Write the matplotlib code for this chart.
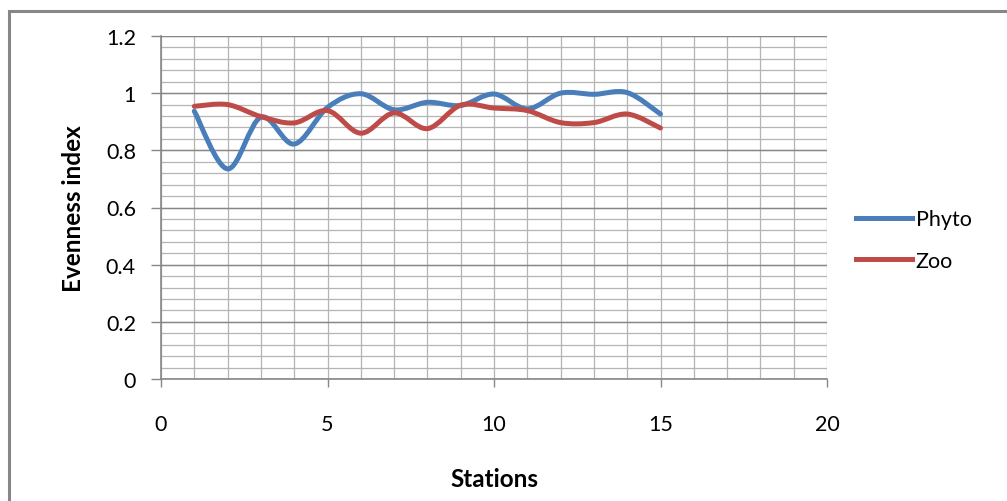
import numpy as np
import matplotlib
matplotlib.use("Agg")
import matplotlib.pyplot as plt
from matplotlib.path import Path
from matplotlib.patches import PathPatch, Rectangle
from matplotlib.lines import Line2D

plt.rcParams['font.family'] = ['Lato', 'DejaVu Sans']

stations = [1, 2, 3, 4, 5, 6, 7, 8, 9, 10, 11, 12, 13, 14, 15]
phyto = [0.937, 0.735, 0.916, 0.822, 0.950, 0.998, 0.942, 0.968, 0.957,
         0.997, 0.945, 1.000, 0.996, 1.002, 0.927]
zoo = [0.954, 0.960, 0.918, 0.896, 0.939, 0.860, 0.931, 0.876, 0.958,
       0.948, 0.939, 0.897, 0.897, 0.927, 0.878]
series_names = ["Phyto", "Zoo"]
series_colors = ["#4a7ebb", "#be4b48"]
x_ticks = [0, 5, 10, 15, 20]
y_ticks = [0, 0.2, 0.4, 0.6, 0.8, 1.0, 1.2]
y_ticklabels = ["0", "0.2", "0.4", "0.6", "0.8", "1", "1.2"]


def smooth_path(xs, ys):
    pts = np.column_stack([xs, ys]).astype(float)
    n = len(pts)
    verts = [pts[0]]
    codes = [Path.MOVETO]
    for i in range(n - 1):
        p0 = pts[i - 1] if i > 0 else pts[i]
        p1 = pts[i]
        p2 = pts[i + 1]
        p3 = pts[i + 2] if i + 2 < n else pts[i + 1]
        c1 = p1 + (p2 - p0) / 6.0
        c2 = p2 - (p3 - p1) / 6.0
        verts += [c1, c2, p2]
        codes += [Path.CURVE4] * 3
    return Path(verts, codes)


W, H = 1007, 502
fig = plt.figure(figsize=(W / 100, H / 100), dpi=100)
L, R, T, B = 161, 827, 37, 380
ax = fig.add_axes([L / W, 1 - B / H, (R - L) / W, (B - T) / H])

ax.set_xlim(0, 20)
ax.set_ylim(0, 1.2)

# gridlines
for xv in range(0, 21):
    ax.axvline(xv, color="#b4b4b4", lw=0.9, zorder=0)
for yv in np.arange(0, 1.2001, 0.04):
    ax.axhline(yv, color="#b4b4b4", lw=0.9, zorder=0)
for yv in y_ticks:
    ax.axhline(yv, color="#878787", lw=1.0, zorder=0.5)

for ys, c in zip([phyto, zoo], series_colors):
    patch = PathPatch(smooth_path(stations, ys), facecolor="none", edgecolor=c,
                      lw=3.6, capstyle="round", joinstyle="round", zorder=3)
    ax.add_patch(patch)

ax.set_xticks(x_ticks)
ax.set_xticklabels([str(v) for v in x_ticks])
ax.set_yticks(y_ticks)
ax.set_yticklabels(y_ticklabels)
ax.tick_params(axis="y", direction="out", length=7, width=1, color="#878787",
               labelsize=15.5, pad=11)
ax.tick_params(axis="x", direction="out", length=6, width=1, color="#878787",
               labelsize=15.5, pad=19)
for s in ["top", "right"]:
    ax.spines[s].set_visible(False)
for s in ["left", "bottom"]:
    ax.spines[s].set_color("#878787")
    ax.spines[s].set_linewidth(1.2)

ax.set_ylabel("Evenness index", fontsize=17.5, fontweight="bold", labelpad=15)
ax.set_xlabel("Stations", fontsize=17.5, fontweight="bold", labelpad=24)

handles = [Line2D([0], [0], color=c, lw=3.6) for c in series_colors]
fig.legend(handles, series_names, loc="upper left",
           bbox_to_anchor=(837 / W, 1 - 191 / H), frameon=False,
           fontsize=15.5, handlelength=2.6, handletextpad=0.15, labelspacing=1.0)

fig.add_artist(Rectangle((9 / W, -0.2), 1.2, (1 - 12 / H) + 0.2,
                         transform=fig.transFigure, fill=False,
                         edgecolor="#878787", lw=2.2, clip_on=False))

fig.savefig("out.png", dpi=100)
